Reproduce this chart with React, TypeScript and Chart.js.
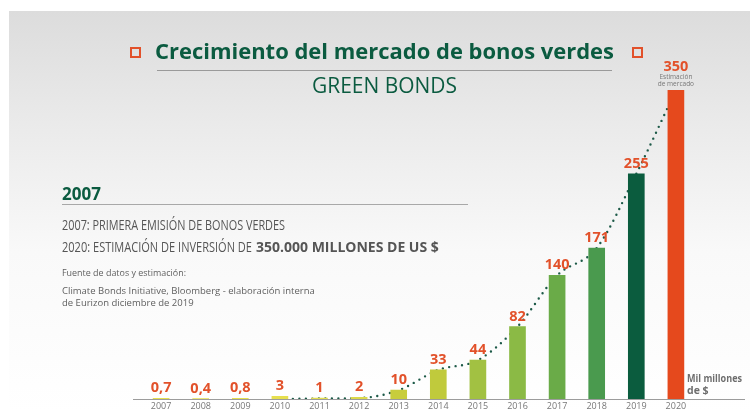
import React, { useEffect, useRef } from "react";
import { Chart, registerables } from "chart.js";

Chart.register(...registerables);

const years = ["2007","2008","2009","2010","2011","2012","2013","2014","2015","2016","2017","2018","2019","2020"];
const issuance = [0.7, 0.4, 0.8, 3, 1, 2, 10, 33, 44, 82, 140, 171, 255, 350];
const trend = [null, null, null, 0, 0.5, 1, 10, 33, 44, 82, 140, 171, 255, 350];
const barColors = ["#e6df4e","#e6df4e","#e6df4e","#e6df4e","#e3dd4f","#dcd94a","#c8cd3c","#c0ca3c","#a2c142","#8bba45","#6aab48","#4a9a4e","#0b5c3e","#e5491d"];

const TITLE = "Crecimiento del mercado de bonos verdes";
const SUBTITLE = "GREEN BONDS";
const SIDE_HEAD = "2007";
const SIDE_LINE1 = "2007: PRIMERA EMISIÓN DE BONOS VERDES";
const SIDE_LINE2A = "2020: ESTIMACIÓN DE INVERSIÓN DE";
const SIDE_LINE2B = "350.000 MILLONES DE US $";
const SOURCE_1 = "Fuente de datos y estimación:";
const SOURCE_2 = "Climate Bonds Initiative, Bloomberg - elaboración interna";
const SOURCE_3 = "de Eurizon diciembre de 2019";
const UNIT_1 = "Mil millones";
const UNIT_2 = "de $";
const EST_1 = "Estimación";
const EST_2 = "de mercado";

const GREEN = "#0b5b40";
const ORANGE = "#e2512a";

const decor = {
  id: "decor",
  beforeDraw(chart: any) {
    const ctx = chart.ctx;
    ctx.save();
    ctx.fillStyle = "#ffffff";
    ctx.fillRect(0, 0, chart.width, chart.height);
    const g = ctx.createLinearGradient(0, 11, 0, 412);
    g.addColorStop(0, "#dcdcdc");
    g.addColorStop(0.3, "#ebebeb");
    g.addColorStop(0.6, "#f9f9f9");
    g.addColorStop(1, "#ffffff");
    ctx.fillStyle = g;
    ctx.fillRect(9, 11, chart.width - 9, chart.height - 11);

    // title
    ctx.textBaseline = "alphabetic";
    ctx.textAlign = "center";
    ctx.fillStyle = GREEN;
    ctx.font = "bold 22px 'Open Sans'";
    ctx.fillText(TITLE, 384.5, 58.5, 459);
    ctx.font = "22px 'Open Sans'";
    ctx.fillText(SUBTITLE, 384.5, 93, 145);
    ctx.strokeStyle = "#9a9a9a";
    ctx.lineWidth = 1;
    ctx.beginPath();
    ctx.moveTo(157, 70.5);
    ctx.lineTo(612, 70.5);
    ctx.stroke();
    ctx.strokeStyle = ORANGE;
    ctx.lineWidth = 2;
    ctx.strokeRect(131, 48, 9, 9);
    ctx.strokeRect(633, 48, 9, 9);

    // side block
    ctx.textAlign = "left";
    ctx.fillStyle = GREEN;
    ctx.font = "bold 17px 'Open Sans'";
    ctx.fillText(SIDE_HEAD, 62, 200, 41);
    ctx.strokeStyle = "#a8a8a8";
    ctx.lineWidth = 1;
    ctx.beginPath();
    ctx.moveTo(62, 204.5);
    ctx.lineTo(468, 204.5);
    ctx.stroke();
    ctx.fillStyle = "#555555";
    ctx.font = "14px 'Open Sans'";
    ctx.fillText(SIDE_LINE1, 62, 230, 223);
    const wA = Math.min(ctx.measureText(SIDE_LINE2A).width, 190);
    ctx.fillText(SIDE_LINE2A, 62, 252, 190);
    ctx.font = "bold 14px 'Open Sans'";
    ctx.fillText(SIDE_LINE2B, 62 + wA + 4, 252, 187);
    ctx.fillStyle = "#606060";
    ctx.font = "9.5px 'Open Sans'";
    ctx.fillText(SOURCE_1, 62, 276, 124);
    ctx.fillText(SOURCE_2, 62, 294, 255);
    ctx.fillText(SOURCE_3, 62, 306);

    // unit
    ctx.fillStyle = "#6e6e6e";
    ctx.font = "bold 10.5px 'Open Sans'";
    ctx.fillText(UNIT_1, 687, 382, 55);
    ctx.fillText(UNIT_2, 687, 394, 30);

    // axis line
    const yb = chart.scales.y.getPixelForValue(0);
    ctx.strokeStyle = "#9c9c9c";
    ctx.lineWidth = 1;
    ctx.beginPath();
    ctx.moveTo(133, Math.round(yb) + 0.5);
    ctx.lineTo(745, Math.round(yb) + 0.5);
    ctx.stroke();
    ctx.restore();
  },
  afterDatasetsDraw(chart: any) {
    const ctx = chart.ctx;
    const meta = chart.getDatasetMeta(0);
    ctx.save();
    ctx.textAlign = "center";
    ctx.textBaseline = "alphabetic";
    meta.data.forEach((bar: any, i: number) => {
      const v = issuance[i];
      const txt = String(v).replace(".", ",");
      const last = i === issuance.length - 1;
      ctx.fillStyle = ORANGE;
      ctx.font = "bold 14.5px 'Open Sans'";
      ctx.fillText(txt, bar.x, bar.y - (last ? 19 : 6));
      if (last) {
        ctx.fillStyle = "#777777";
        ctx.font = "6.5px 'Open Sans'";
        ctx.fillText(EST_1, bar.x, bar.y - 11);
        ctx.fillText(EST_2, bar.x, bar.y - 4.5);
      }
    });
    ctx.restore();
  },
};

export default function App() {
  const ref = useRef<HTMLCanvasElement | null>(null);
  useEffect(() => {
    if (!ref.current) return;
    const chart = new Chart(ref.current, {
      type: "bar",
      data: {
        labels: years,
        datasets: [
          {
            type: "bar",
            data: issuance,
            backgroundColor: barColors,
            barThickness: 16,
            order: 1,
          } as any,
          {
            type: "line",
            data: trend,
            borderColor: "#1d5a48",
            borderWidth: 2.4,
            borderCapStyle: "round",
            borderDash: [0, 6.5],
            pointRadius: 0,
            tension: 0.4,
            cubicInterpolationMode: "monotone",
            fill: false,
            order: 2,
          } as any,
        ],
      },
      options: {
        responsive: false,
        devicePixelRatio: 1,
        animation: false,
        layout: { padding: { left: 141.3, right: 54.3, top: 90, bottom: 0 } },
        plugins: { legend: { display: false }, tooltip: { enabled: false }, title: { display: false } },
        scales: {
          x: {
            grid: { display: false, drawTicks: false },
            border: { display: false },
            ticks: { color: "#777777", font: { family: "'Open Sans'", size: 9 }, padding: 2.5, maxRotation: 0, autoSkip: false },
            afterFit: (s: any) => { s.height = 13; },
          },
          y: { display: false, min: 0, max: 350 },
        },
      },
      plugins: [decor],
    });
    return () => chart.destroy();
  }, []);
  return (
    <div style={{ position: "fixed", left: 0, top: 0, width: 750, height: 412 }}>
      <canvas ref={ref} width={750} height={412} />
    </div>
  );
}
